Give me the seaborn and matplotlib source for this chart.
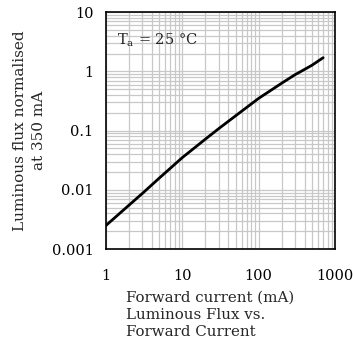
import numpy as np
import pandas as pd
import matplotlib
matplotlib.use("Agg")
import matplotlib.pyplot as plt
from matplotlib.ticker import LogLocator, FixedLocator, FixedFormatter, NullFormatter
import seaborn as sns

# Data
current_mA = [1, 2, 3, 5, 10, 20, 30, 50, 100, 200, 300, 350, 500, 700]
flux_norm = [0.0025, 0.0055, 0.0087, 0.0158, 0.035, 0.0715, 0.108, 0.178, 0.35, 0.63, 0.88, 0.98, 1.27, 1.70]

x_ticks = [1, 10, 100, 1000]
x_ticklabels = ["1", "10", "100", "1000"]
y_ticks = [0.001, 0.01, 0.1, 1, 10]
y_ticklabels = ["0.001", "0.01", "0.1", "1", "10"]

sns.set_style("white")
plt.rcParams['font.family'] = ['DejaVu Serif']
plt.rcParams['mathtext.fontset'] = 'dejavuserif'

df = pd.DataFrame({"current": current_mA, "flux": flux_norm})

fig = plt.figure(figsize=(3.53, 3.46), dpi=100)
ax = fig.add_axes([0.300, 0.280, 0.649, 0.685])

sns.lineplot(data=df, x="current", y="flux", ax=ax, color="black", linewidth=2.0)

ax.set_xscale("log")
ax.set_yscale("log")
ax.set_xlim(1, 1000)
ax.set_ylim(0.001, 10)

ax.xaxis.set_major_locator(FixedLocator(x_ticks))
ax.xaxis.set_major_formatter(FixedFormatter(x_ticklabels))
ax.yaxis.set_major_locator(FixedLocator(y_ticks))
ax.yaxis.set_major_formatter(FixedFormatter(y_ticklabels))
ax.xaxis.set_minor_locator(LogLocator(base=10, subs=np.arange(2, 10)))
ax.yaxis.set_minor_locator(LogLocator(base=10, subs=np.arange(2, 10)))
ax.xaxis.set_minor_formatter(NullFormatter())
ax.yaxis.set_minor_formatter(NullFormatter())

ax.grid(True, which="both", color="#c8c8c8", linewidth=0.9)
ax.set_axisbelow(True)

ax.tick_params(which="major", direction="in", length=4, width=1, labelsize=10.5, colors="black")
ax.tick_params(axis="x", which="major", pad=14)
ax.tick_params(axis="y", which="major", pad=9)
ax.tick_params(which="minor", length=0)

for s in ax.spines.values():
    s.set_color("black")
    s.set_linewidth(1.2)

ax.set_xlabel("")
ax.set_ylabel("Luminous flux normalised\nat 350 mA", fontsize=11, linespacing=1.45, labelpad=4)

ax.text(0.05, 0.88, r"T$_\mathrm{a}$ = 25 °C", transform=ax.transAxes,
        fontsize=10.5, va="center", ha="left")

fig.text(126 / 353, 1 - 291 / 346,
         "Forward current (mA)\nLuminous Flux vs.\nForward Current",
         fontsize=10.8, ha="left", va="top", linespacing=1.25)

fig.savefig("out.png", dpi=100)
